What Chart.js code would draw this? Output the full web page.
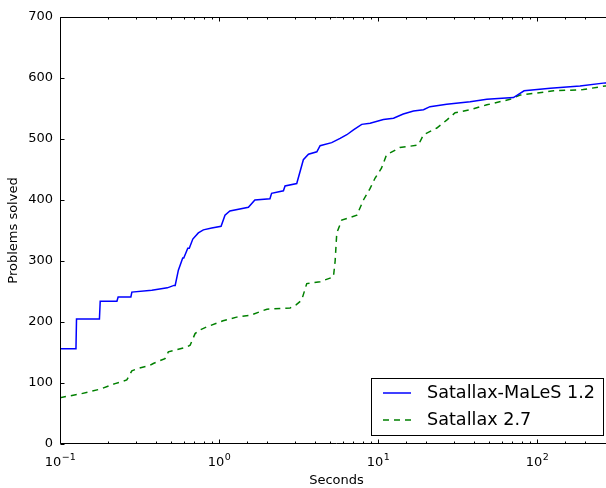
<!DOCTYPE html>
<html><head><meta charset="utf-8">
<script src="https://cdn.jsdelivr.net/npm/chart.js@4.4.0/dist/chart.umd.min.js"></script>
<style>html,body{margin:0;padding:0;background:#fff;overflow:hidden;width:606px;height:488px}canvas{display:block}</style>
</head><body>
<canvas id="c" width="620" height="488"></canvas>
<script>
// Satallax-MaLeS 1.2 (blue, solid)
const malesTime = [0.1, 0.126, 0.127, 0.177, 0.179, 0.228, 0.232, 0.279, 0.283, 0.378, 0.473, 0.521, 0.53, 0.555, 0.56, 0.591, 0.60, 0.636, 0.65, 0.684, 0.741, 0.797, 0.9, 1.03, 1.09, 1.17, 1.53, 1.68, 2.09, 2.14, 2.54, 2.60, 3.08, 3.39, 3.65, 4.12, 4.32, 5.11, 5.77, 6.36, 7.00, 7.89, 8.91, 10.8, 12.5, 14.4, 16.7, 19.3, 21.2, 27.0, 37.9, 48.3, 71.0, 82.8, 121, 186, 268, 300];
const malesSolved = [156, 156, 205, 205, 234, 234, 241, 241, 249, 252, 256, 260, 260, 285, 285, 305, 305, 321, 321, 336, 346, 351, 354, 357, 375, 382, 388, 400, 402, 411, 415, 423, 427, 466, 475, 479, 489, 494, 501, 507, 515, 524, 526, 532, 534, 541, 546, 548, 553, 557, 561, 565, 568, 579, 583, 587, 592, 593];
// Satallax 2.7 (green, dashed)
const satTime = [0.1, 0.134, 0.179, 0.222, 0.263, 0.283, 0.311, 0.368, 0.386, 0.457, 0.480, 0.627, 0.658, 0.707, 0.760, 0.838, 1.06, 1.29, 1.57, 2.00, 2.80, 3.05, 3.31, 3.56, 4.32, 5.24, 5.37, 5.50, 5.91, 7.35, 8.09, 8.91, 9.58, 10.5, 11.3, 13.7, 17.9, 19.3, 23.4, 27.0, 30.5, 37.9, 48.3, 67.6, 78.2, 127, 195, 268, 300];
const satSolved = [76, 82, 90, 99, 105, 120, 124, 129, 132, 140, 151, 159, 162, 181, 187, 192, 202, 208, 211, 221, 223, 228, 236, 263, 266, 274, 300, 346, 367, 375, 400, 419, 436, 452, 474, 486, 490, 507, 518, 531, 543, 548, 556, 565, 572, 579, 581, 587, 588];

const seriesNames = ['Satallax-MaLeS 1.2', 'Satallax 2.7'];
const xTickValues = [0.1, 1, 10, 100];
const xTickExponents = ['\u22121', '0', '1', '2'];
const yMin = 0, yMax = 700, yStep = 100;
const xMin = 0.1, xMax = 300;

const FONT = 'DejaVu Sans';
const blue = '#0000ff';
const green = '#008000';

function toPts(xs, ys) { return xs.map((x, i) => ({x: x, y: ys[i]})); }
function isPow10(v) { const l = Math.log10(v); return Math.abs(l - Math.round(l)) < 1e-6; }

const framePlugin = {
  id: 'frame',
  afterDraw(chart) {
    const ctx = chart.ctx, a = chart.chartArea;
    const xs = chart.scales.x, ys = chart.scales.y;
    ctx.save();
    ctx.strokeStyle = '#000';
    ctx.lineWidth = 1;
    const L = Math.round(a.left) + 0.5, R = Math.round(a.right) - 0.5;
    const T = Math.round(a.top) + 0.5, B = Math.round(a.bottom) - 0.5;
    ctx.beginPath();
    ctx.moveTo(L, T); ctx.lineTo(R, T); ctx.lineTo(R, B); ctx.lineTo(L, B); ctx.closePath();
    ctx.stroke();
    ctx.beginPath();
    xs.ticks.forEach(t => {
      const px = Math.round(xs.getPixelForValue(t.value)) + 0.5;
      if (px < a.left || px > a.right) return;
      const len = isPow10(t.value) ? 4 : 2;
      ctx.moveTo(px, B); ctx.lineTo(px, B - len);
      ctx.moveTo(px, T); ctx.lineTo(px, T + len);
    });
    ys.ticks.forEach(t => {
      const py = Math.round(ys.getPixelForValue(t.value)) + 0.5;
      ctx.moveTo(L, py); ctx.lineTo(L + 4, py);
      ctx.moveTo(R, py); ctx.lineTo(R - 4, py);
    });
    ctx.stroke();
    // x tick labels: 10 with superscript exponent
    ctx.fillStyle = '#000';
    ctx.textAlign = 'left';
    ctx.textBaseline = 'alphabetic';
    xTickValues.forEach((v, i) => {
      const px = xs.getPixelForValue(v);
      ctx.font = '13px "' + FONT + '"';
      const w1 = ctx.measureText('10').width;
      ctx.font = '9.5px "' + FONT + '"';
      const w2 = ctx.measureText(xTickExponents[i]).width;
      const x0 = px - (w1 + w2) / 2;
      ctx.font = '13px "' + FONT + '"';
      ctx.fillText('10', x0, 466);
      ctx.font = '9.5px "' + FONT + '"';
      ctx.fillText(xTickExponents[i], x0 + w1 + 0.5, 460);
    });
    // legend
    const bx = 371.5, by = 378.5, bw = 232, bh = 57;
    ctx.fillStyle = '#fff';
    ctx.fillRect(bx, by, bw, bh);
    ctx.strokeStyle = '#000';
    ctx.lineWidth = 1;
    ctx.strokeRect(bx, by, bw, bh);
    const rows = [393, 420];
    const cols = [blue, green];
    const dashes = [[], [6, 5]];
    rows.forEach((ry, i) => {
      ctx.beginPath();
      ctx.setLineDash(dashes[i]);
      ctx.strokeStyle = cols[i];
      ctx.lineWidth = 1.5;
      ctx.moveTo(383, ry); ctx.lineTo(411, ry);
      ctx.stroke();
      ctx.setLineDash([]);
      ctx.fillStyle = '#000';
      ctx.font = '17.6px "' + FONT + '"';
      ctx.textBaseline = 'middle';
      ctx.textAlign = 'left';
      ctx.fillText(seriesNames[i], 427, ry);
    });
    ctx.restore();
  }
};

new Chart(document.getElementById('c'), {
  type: 'scatter',
  data: {
    datasets: [
      { label: seriesNames[0], data: toPts(malesTime, malesSolved), showLine: true, borderColor: blue, borderWidth: 1.5, pointRadius: 0, tension: 0, fill: false },
      { label: seriesNames[1], data: toPts(satTime, satSolved), showLine: true, borderColor: green, borderWidth: 1.5, borderDash: [6, 5], pointRadius: 0, tension: 0, fill: false }
    ]
  },
  options: {
    responsive: false,
    animation: false,
    devicePixelRatio: 1,
    layout: { padding: { top: 17, right: 7, left: 0, bottom: 0 } },
    plugins: { legend: { display: false }, tooltip: { enabled: false } },
    scales: {
      x: {
        type: 'logarithmic', min: xMin, max: xMax,
        afterFit(s) { s.height = 44; },
        grid: { display: true, drawOnChartArea: false, drawTicks: false },
        border: { display: false },
        ticks: { autoSkip: false, maxRotation: 0, padding: 7, color: '#000', font: { family: FONT, size: 13 }, callback() { return ''; } },
        title: { display: true, text: 'Seconds', color: '#000', font: { family: FONT, size: 13 }, padding: { top: 0, bottom: 0 } }
      },
      y: {
        min: yMin, max: yMax,
        afterFit(s) { s.width = 60; },
        grid: { display: true, drawOnChartArea: false, drawTicks: false },
        border: { display: false },
        ticks: { stepSize: yStep, padding: 7, color: '#000', font: { family: FONT, size: 13 } },
        title: { display: true, text: 'Problems solved', color: '#000', font: { family: FONT, size: 13 }, padding: { top: 6, bottom: 0 } }
      }
    }
  },
  plugins: [framePlugin]
});
</script>
</body></html>
